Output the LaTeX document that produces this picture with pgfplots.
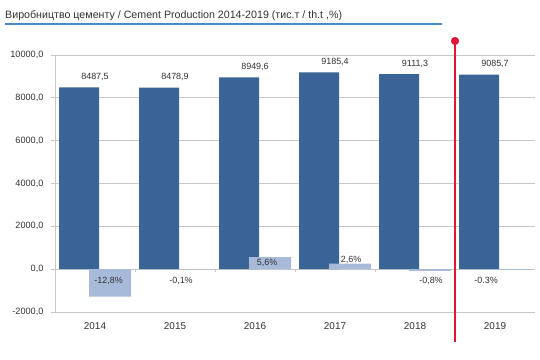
\documentclass[border=0pt]{standalone}
\usepackage{pgfplots}
\pgfplotsset{compat=1.18}
\usepackage{fontspec}
\setmainfont{Liberation Sans}
\definecolor{darkbar}{RGB}{59,100,150}
\definecolor{lightbar}{RGB}{168,186,217}
\definecolor{redline}{RGB}{228,20,50}
\definecolor{titleblue}{RGB}{74,134,200}
\definecolor{gridgray}{RGB}{200,200,200}
\definecolor{txt}{RGB}{50,50,50}
\begin{document}
\begin{tikzpicture}[x=1bp,y=1bp]
\useasboundingbox (0,0) rectangle (540,359);
\node[anchor=west, inner sep=0, text=txt, font=\fontsize{10.7}{12}\selectfont] at (5,343) {Виробництво цементу / Cement Production 2014-2019 (тис.т / th.t ,\%)};
\draw[titleblue, line width=1.2bp] (5,335) -- (442,335);
\begin{axis}[
  at={(55bp,47bp)}, anchor=south west,
  scale only axis, width=480bp, height=257bp,
  xmin=-0.5, xmax=5.5, ymin=-2000, ymax=10000,
  ytick={-2000,0,2000,4000,6000,8000,10000},
  scaled y ticks=false,
  xtick={0,1,2,3,4,5}, xticklabels={2014,2015,2016,2017,2018,2019},
  axis lines*=left,
  axis line style={gridgray, line width=0.8bp},
  ymajorgrids, grid style={gridgray, line width=0.8bp},
  x tick style={draw=none},
  y tick style={gridgray, line width=0.8bp},
  tick align=outside, major tick length=4bp,
  yticklabel style={font=\fontsize{9.2}{10}\selectfont, text=txt, xshift=-4bp},
  xticklabel style={font=\fontsize{10}{11}\selectfont, text=txt, yshift=-3bp},
  clip=false,
  /pgf/number format/assume math mode=true,
  /pgf/number format/fixed,
  /pgf/number format/fixed zerofill,
  /pgf/number format/precision=1,
  /pgf/number format/use comma,
  /pgf/number format/1000 sep={},
]
% production, th.t
\addplot[ybar, bar width=0.5, bar shift=-0.2, fill=darkbar, draw=none,
  nodes near coords,
  every node near coord/.append style={font=\fontsize{9}{10}\selectfont, text=txt, yshift=3bp}]
  coordinates {(0,8487.5) (1,8478.9) (2,8949.6) (3,9185.4) (4,9111.3) (5,9085.7)};
% change, % (x100)
\addplot[ybar, bar width=0.525, bar shift=0.19, fill=lightbar, draw=none]
  coordinates {(0,-1280) (1,-10) (2,560) (3,260) (4,-80) (5,-30)};
% labels of change
\addplot[draw=none, mark=none, point meta=explicit symbolic,
  nodes near coords={\pgfplotspointmeta\%},
  every node near coord/.append style={font=\fontsize{9}{10}\selectfont, text=txt, anchor=center}]
  table[meta=label] {
x y label
0.17 -560 -12,8
1.075 -540 -0,1
2.15 280 5,6
3.2 420 2,6
4.2 -540 -0,8
4.89 -540 -0.3
};
% small ticks on zero line
\addplot[gridgray, line width=0.8bp] coordinates {(0.5,0) (0.5,-120)};
\addplot[gridgray, line width=0.8bp] coordinates {(1.5,0) (1.5,-120)};
\addplot[gridgray, line width=0.8bp] coordinates {(2.5,0) (2.5,-120)};
\addplot[gridgray, line width=0.8bp] coordinates {(3.5,0) (3.5,-120)};
\addplot[gridgray, line width=0.8bp] coordinates {(4.5,0) (4.5,-120)};
% red marker line
\addplot[redline, line width=1.5bp] coordinates {(4.5,10654) (4.5,-3400)};
\addplot[only marks, mark=*, mark size=3.8bp, redline] coordinates {(4.5,10654)};
\end{axis}
\end{tikzpicture}
\end{document}
